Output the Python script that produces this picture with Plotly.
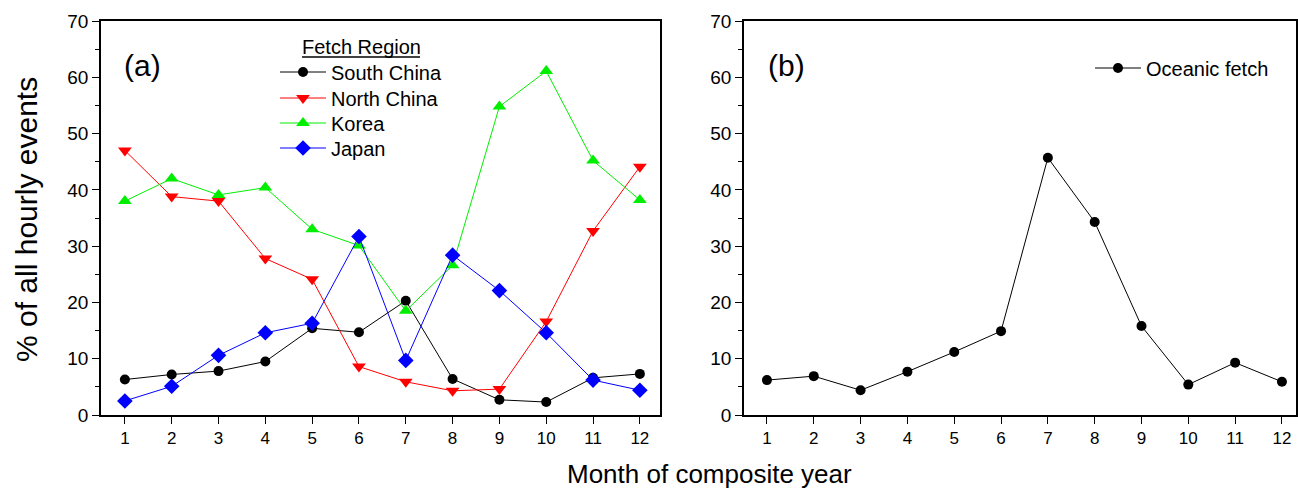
import plotly.graph_objects as go

months = list(range(1, 13))
south_china = [6.3, 7.2, 7.8, 9.5, 15.4, 14.7, 20.3, 6.4, 2.7, 2.3, 6.6, 7.3]
north_china = [47.0, 38.8, 38.0, 27.8, 24.1, 8.6, 5.9, 4.3, 4.6, 16.6, 32.7, 44.1]
korea = [38.0, 42.0, 39.1, 40.4, 33.0, 30.1, 18.5, 26.6, 54.8, 61.1, 45.2, 38.2]
japan = [2.5, 5.1, 10.6, 14.6, 16.3, 31.7, 9.7, 28.4, 22.1, 14.6, 6.2, 4.4]
oceanic = [6.2, 6.9, 4.4, 7.7, 11.2, 14.9, 45.7, 34.3, 15.8, 5.4, 9.3, 5.9]

W, H = 1298, 490
FONT = "Arial, Liberation Sans, sans-serif"

def px(x):
    return x / W

def py(y):
    return 1 - y / H

fig = go.Figure()

series = [
    ("South China", south_china, "black", "circle", 10, "legend"),
    ("North China", north_china, "#ff0000", "triangle-down", 12, "legend2"),
    ("Korea", korea, "#00ee00", "triangle-up", 12, "legend3"),
    ("Japan", japan, "#0000ff", "diamond", 12, "legend4"),
]
for name, vals, col, sym, sz, lg in series:
    fig.add_trace(go.Scatter(
        x=months, y=vals, name=name, mode="lines+markers",
        line=dict(color=col, width=1),
        marker=dict(color=col, symbol=sym, size=sz, line=dict(width=0)),
        xaxis="x", yaxis="y", legend=lg,
    ))

fig.add_trace(go.Scatter(
    x=months, y=oceanic, name="Oceanic fetch", mode="lines+markers",
    line=dict(color="black", width=1),
    marker=dict(color="black", symbol="circle", size=10, line=dict(width=0)),
    xaxis="x2", yaxis="y2", legend="legend5",
))

axis_common = dict(
    showline=True, linecolor="black", linewidth=1.5, mirror=True,
    showgrid=False, zeroline=False, automargin=False,
    ticks="outside", tickcolor="black", ticklen=7, tickwidth=1,
)
xcommon = dict(axis_common, tickmode="linear", tick0=1, dtick=1,
               tickfont=dict(family=FONT, size=17, color="black"))
ycommon = dict(axis_common, range=[0, 70], tickmode="linear", tick0=0, dtick=10,
               tickfont=dict(family=FONT, size=19, color="black"),
               minor=dict(ticks="outside", dtick=5, ticklen=4, tickcolor="black", showgrid=False))

ydom = [py(415), py(21)]
fig.update_layout(
    xaxis=dict(xcommon, domain=[px(101), px(660)], range=[0.49, 12.43], anchor="y"),
    yaxis=dict(ycommon, domain=ydom, anchor="x"),
    xaxis2=dict(xcommon, domain=[px(744), px(1296)], range=[0.51, 12.3], anchor="y2"),
    yaxis2=dict(ycommon, domain=ydom, anchor="x2"),
)

leg_common = dict(font=dict(family=FONT, size=20, color="black"), bgcolor="rgba(0,0,0,0)",
                  borderwidth=0, xanchor="left", yanchor="middle", itemwidth=46)
fig.update_layout(
    legend=dict(leg_common, x=px(275), y=py(72)),
    legend2=dict(leg_common, x=px(275), y=py(98)),
    legend3=dict(leg_common, x=px(275), y=py(123)),
    legend4=dict(leg_common, x=px(275), y=py(148)),
    legend5=dict(leg_common, x=px(1090), y=py(68)),
    showlegend=True,
)

annotations = [
    dict(text="Fetch Region", x=px(361), y=py(47), xref="paper", yref="paper",
         showarrow=False, xanchor="center", yanchor="middle",
         font=dict(family=FONT, size=20, color="black")),
    dict(text="(a)", x=px(142), y=py(65), xref="paper", yref="paper",
         showarrow=False, xanchor="center", yanchor="middle",
         font=dict(family=FONT, size=30, color="black")),
    dict(text="(b)", x=px(787), y=py(65), xref="paper", yref="paper",
         showarrow=False, xanchor="center", yanchor="middle",
         font=dict(family=FONT, size=30, color="black")),
    dict(text="Month of composite year", x=px(709), y=py(474), xref="paper", yref="paper",
         showarrow=False, xanchor="center", yanchor="middle",
         font=dict(family=FONT, size=26, color="black")),
    dict(text="% of all hourly events", x=px(26), y=py(220), xref="paper", yref="paper",
         showarrow=False, xanchor="center", yanchor="middle", textangle=-90,
         font=dict(family=FONT, size=30, color="black")),
]
fig.update_layout(annotations=annotations)
fig.add_shape(type="line", xref="paper", yref="paper",
              x0=px(302), x1=px(420), y0=py(57), y1=py(57),
              line=dict(color="black", width=1.5))

fig.update_layout(
    template="none",
    width=W, height=H, margin=dict(l=0, r=0, t=0, b=0, pad=0, autoexpand=False),
    paper_bgcolor="white", plot_bgcolor="white",
    font=dict(family=FONT, color="black"),
)

fig.write_html("out.html")
